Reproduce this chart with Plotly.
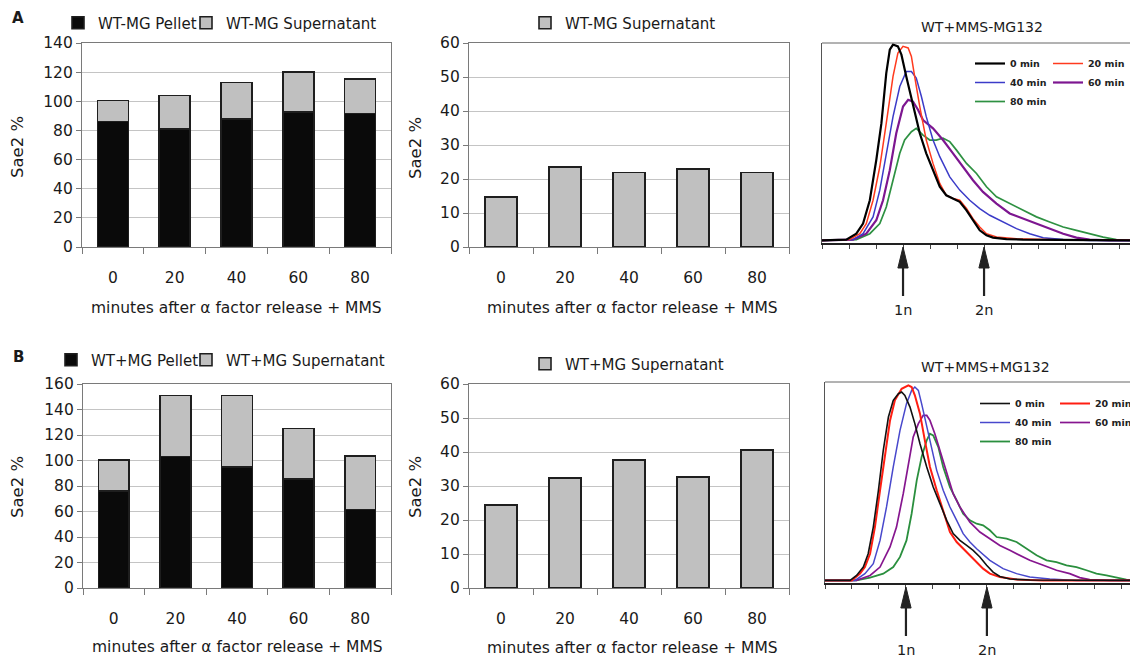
import plotly.graph_objects as go

FONT = "DejaVu Sans"
# page body has an 8px margin, so the figure is 8px smaller than the window
OFF = 8
W, H = 1138 - OFF, 660 - OFF

# ---------------- data ----------------
minutes = ["0", "20", "40", "60", "80"]

a_pellet = [86, 81, 88, 92.5, 91.5]
a_super_stack = [14.5, 23, 25, 27.5, 24]
a_super = [14.7, 23.5, 21.9, 23.0, 21.9]

b_pellet = [76, 103, 95, 85.5, 61.6]
b_super_stack = [24.5, 48, 56, 39.5, 42]
b_super = [24.4, 32.3, 37.7, 32.7, 40.6]

hist_labels = ["0 min", "20 min", "40 min", "60 min", "80 min"]
ploidy_labels = ["1n", "2n"]
ploidy_pos = [3.0, 6.0]

# panel A histograms (WT+MMS-MG132)
a0_x = [0, 0.90, 1.27, 1.52, 1.77, 2.01, 2.20, 2.38, 2.51, 2.63, 2.81, 2.94, 3.12, 3.37, 3.62, 3.86, 4.11, 4.36, 4.60, 4.85, 5.10, 5.35, 5.59, 5.84, 6.09, 6.33, 6.83, 7.44, 11.7]
a0_y = [0.3, 0.7, 3.7, 8.8, 20.6, 40.9, 59.5, 84.8, 96.6, 99.2, 98.3, 94.1, 83.1, 67.9, 54.4, 44.3, 35.8, 27.4, 23.1, 21.5, 19.8, 15.5, 10.5, 5.4, 2.9, 1.7, 1.0, 0.7, 0.3]
a20_x = [0, 1.02, 1.40, 1.64, 1.89, 2.14, 2.38, 2.63, 2.81, 3.00, 3.19, 3.31, 3.43, 3.62, 3.86, 4.11, 4.36, 4.60, 4.85, 5.10, 5.35, 5.59, 5.84, 6.09, 6.46, 7.20, 8.68, 11.7]
a20_y = [0.3, 0.7, 3.7, 8.8, 20.6, 37.5, 59.5, 83.1, 94.9, 98.3, 97.5, 93.2, 83.1, 67.9, 51.0, 39.2, 29.1, 23.1, 21.5, 20.6, 16.4, 11.3, 7.1, 3.7, 2.0, 1.2, 0.7, 0.3]
a40_x = [0, 1.15, 1.52, 1.89, 2.14, 2.38, 2.63, 2.88, 3.12, 3.31, 3.49, 3.68, 3.86, 4.11, 4.36, 4.73, 5.10, 5.47, 5.84, 6.21, 6.70, 7.20, 7.69, 8.19, 8.93, 9.91, 11.7]
a40_y = [0.3, 0.7, 3.7, 12.2, 25.7, 44.3, 62.8, 78.0, 85.6, 85.6, 82.3, 73.0, 62.8, 51.0, 42.6, 32.4, 25.7, 20.6, 16.4, 13.0, 9.6, 6.25, 3.7, 1.7, 0.8, 0.3, 0.3]
a60_x = [0, 1.15, 1.64, 2.01, 2.26, 2.51, 2.75, 3.00, 3.19, 3.37, 3.56, 3.74, 4.11, 4.48, 4.85, 5.22, 5.59, 5.96, 6.46, 6.95, 7.44, 7.94, 8.43, 8.93, 9.42, 9.91, 10.65, 11.7]
a60_y = [0.3, 0.7, 3.7, 10.5, 20.6, 35.8, 54.4, 67.9, 71.3, 70.4, 66.2, 61.1, 56.9, 51.0, 44.3, 37.5, 30.7, 24.8, 18.9, 13.9, 11.3, 8.8, 6.25, 3.7, 1.7, 0.7, 0.3, 0.3]
a80_x = [0, 1.27, 1.77, 2.14, 2.38, 2.63, 2.88, 3.06, 3.31, 3.49, 3.74, 3.99, 4.23, 4.48, 4.73, 4.98, 5.35, 5.72, 6.09, 6.46, 6.95, 7.44, 7.94, 8.43, 8.93, 9.42, 9.91, 10.41, 10.90, 11.7]
a80_y = [0.3, 0.7, 3.7, 8.8, 17.2, 30.7, 44.3, 51.0, 55.2, 56.9, 53.5, 51.0, 51.0, 51.9, 50.2, 45.9, 39.2, 34.1, 27.4, 22.3, 18.9, 15.5, 12.2, 9.6, 7.1, 5.4, 3.7, 2.0, 0.7, 0.3]

# panel B histograms (WT+MMS+MG132)
b0_x = [0, 0.93, 1.17, 1.42, 1.60, 1.79, 1.98, 2.16, 2.35, 2.53, 2.72, 2.84, 2.96, 3.15, 3.33, 3.52, 3.77, 4.01, 4.26, 4.51, 4.75, 5.00, 5.25, 5.49, 5.74, 5.99, 6.23, 6.48, 6.85, 7.59, 11.6]
b0_y = [0.3, 0.3, 2.8, 7.0, 13.7, 27.1, 45.6, 65.7, 82.4, 90.8, 94.1, 95.0, 93.3, 87.4, 79.1, 69.0, 57.3, 47.2, 38.9, 30.5, 23.8, 20.4, 17.9, 15.4, 12.1, 7.9, 4.5, 2.3, 1.0, 0.5, 0.3]
b20_x = [0, 0.99, 1.30, 1.48, 1.67, 1.85, 2.04, 2.22, 2.41, 2.59, 2.84, 3.09, 3.21, 3.33, 3.52, 3.70, 3.89, 4.14, 4.38, 4.63, 4.88, 5.12, 5.37, 5.62, 5.86, 6.11, 6.48, 7.10, 8.09, 11.6]
b20_y = [0.3, 0.3, 3.7, 7.0, 13.7, 27.1, 45.6, 64.0, 80.7, 90.8, 96.6, 98.3, 97.5, 93.3, 84.1, 70.7, 57.3, 45.6, 35.5, 24.6, 19.6, 16.2, 12.9, 9.5, 6.2, 3.7, 2.0, 0.8, 0.3, 0.3]
b40_x = [0, 1.11, 1.48, 1.79, 2.04, 2.28, 2.53, 2.78, 3.02, 3.21, 3.33, 3.46, 3.58, 3.77, 3.95, 4.14, 4.38, 4.63, 4.88, 5.12, 5.37, 5.62, 6.11, 6.60, 7.10, 7.59, 8.33, 9.32, 11.6]
b40_y = [0.3, 0.3, 3.7, 8.7, 20.4, 37.2, 57.3, 75.7, 89.1, 95.8, 97.5, 95.8, 89.1, 77.4, 65.7, 55.6, 45.6, 37.2, 30.5, 23.8, 19.6, 16.2, 10.4, 6.2, 3.7, 2.0, 1.0, 0.3, 0.3]
b60_x = [0, 1.17, 1.67, 2.04, 2.41, 2.65, 2.90, 3.09, 3.27, 3.46, 3.64, 3.77, 3.89, 4.07, 4.26, 4.51, 4.75, 5.00, 5.37, 5.74, 6.11, 6.48, 6.85, 7.22, 7.59, 8.09, 8.58, 9.07, 9.44, 9.81, 10.56, 11.6]
b60_y = [0.3, 0.3, 2.8, 7.0, 17.1, 27.1, 43.9, 59.0, 72.4, 79.1, 83.2, 83.2, 80.7, 74.0, 65.7, 53.9, 43.9, 37.2, 29.6, 24.6, 21.3, 17.9, 15.4, 12.9, 10.4, 7.9, 5.4, 3.7, 1.7, 0.7, 0.3, 0.3]
b80_x = [0, 1.17, 1.67, 2.16, 2.53, 2.78, 3.02, 3.21, 3.40, 3.58, 3.77, 3.89, 4.01, 4.20, 4.38, 4.63, 4.88, 5.12, 5.37, 5.62, 5.86, 6.11, 6.36, 6.73, 7.10, 7.47, 7.84, 8.21, 8.58, 8.95, 9.32, 9.69, 10.06, 10.43, 10.80, 11.17, 11.6]
b80_y = [0.3, 0.3, 1.7, 3.7, 7.0, 12.1, 20.4, 33.8, 50.6, 62.3, 70.7, 74.0, 73.2, 67.3, 57.3, 47.2, 40.5, 33.8, 30.5, 28.8, 28.0, 25.5, 22.1, 21.3, 19.6, 16.2, 12.9, 10.4, 9.5, 7.9, 7.0, 5.4, 3.7, 2.8, 1.7, 0.7, 0.3]

# ---------------- styling ----------------
BLACK_FILL = "#0a0a0a"
GREY_FILL = "#c0c0c0"
EDGE = "#1e1e1e"
col_a = {"0 min": "#000000", "20 min": "#ff3a1e", "40 min": "#3b3bc8", "60 min": "#7d1690", "80 min": "#2e9142"}
col_b = {"0 min": "#111111", "20 min": "#ff1e12", "40 min": "#4848cc", "60 min": "#86168f", "80 min": "#2a8f3e"}
wid_a = {"0 min": 2.2, "20 min": 1.5, "40 min": 1.5, "60 min": 2.2, "80 min": 1.7}
wid_b = {"0 min": 1.6, "20 min": 2.0, "40 min": 1.5, "60 min": 1.7, "80 min": 1.8}


def PX(v):
    return (v - OFF) / W


def PY(v):
    return 1 - (v - OFF) / H


fig = go.Figure()

# ---- bar charts ----
def bar(xa, ya, vals, name, fill, leg):
    fig.add_trace(go.Bar(x=minutes, y=vals, name=name, xaxis=xa, yaxis=ya,
                         marker=dict(color=fill, line=dict(color=EDGE, width=1.6)),
                         legend=leg, showlegend=True))


bar("x", "y", a_pellet, "WT-MG Pellet", BLACK_FILL, "legend")
bar("x", "y", a_super_stack, "WT-MG Supernatant", GREY_FILL, "legend9")
bar("x2", "y2", a_super, "WT-MG Supernatant", GREY_FILL, "legend2")
bar("x4", "y4", b_pellet, "WT+MG Pellet", BLACK_FILL, "legend5")
bar("x4", "y4", b_super_stack, "WT+MG Supernatant", GREY_FILL, "legend10")
bar("x5", "y5", b_super, "WT+MG Supernatant", GREY_FILL, "legend6")

# ---- histograms ----
a_curves = {"0 min": (a0_x, a0_y), "20 min": (a20_x, a20_y), "40 min": (a40_x, a40_y),
            "60 min": (a60_x, a60_y), "80 min": (a80_x, a80_y)}
b_curves = {"0 min": (b0_x, b0_y), "20 min": (b20_x, b20_y), "40 min": (b40_x, b40_y),
            "60 min": (b60_x, b60_y), "80 min": (b80_x, b80_y)}

col1 = ["0 min", "40 min", "80 min"]
for lab in ["80 min", "60 min", "40 min", "20 min", "0 min"]:
    xs, ys = a_curves[lab]
    fig.add_trace(go.Scatter(x=xs, y=ys, mode="lines", name=lab, xaxis="x3", yaxis="y3",
                             line=dict(color=col_a[lab], width=wid_a[lab]), showlegend=True,
                             legend="legend3" if lab in col1 else "legend4",
                             legendrank=hist_labels.index(lab)))
for lab in ["80 min", "60 min", "40 min", "20 min", "0 min"]:
    xs, ys = b_curves[lab]
    fig.add_trace(go.Scatter(x=xs, y=ys, mode="lines", name=lab, xaxis="x6", yaxis="y6",
                             line=dict(color=col_b[lab], width=wid_b[lab]), showlegend=True,
                             legend="legend7" if lab in col1 else "legend8",
                             legendrank=hist_labels.index(lab)))

tick_font = dict(family=FONT, size=15.5, color="#1a1a1a")

def bar_x(dom, anchor):
    return dict(domain=dom, anchor=anchor, type="category", showline=True, linecolor="#7a7a7a",
                linewidth=1.2, mirror=True, ticks="outside", tickson="boundaries", ticklen=6,
                tickcolor="#7a7a7a", tickfont=tick_font, ticklabelstandoff=16, showgrid=False,
                fixedrange=True, automargin=False)


def bar_y(dom, anchor, rmax, dt):
    return dict(domain=dom, anchor=anchor, range=[0, rmax], dtick=dt, showline=True,
                linecolor="#7a7a7a", linewidth=1.2, mirror=True, ticks="outside", ticklen=5,
                tickcolor="#7a7a7a", gridcolor="#c4c4c4", gridwidth=1, zeroline=False,
                tickfont=tick_font, fixedrange=True, automargin=False)


def hist_x(dom, anchor, rmax):
    return dict(domain=dom, anchor=anchor, range=[0, rmax], dtick=1, tick0=0, showline=True,
                linecolor="#222222", linewidth=2, ticks="outside", ticklen=4, tickcolor="#444444",
                showticklabels=False, showgrid=False, zeroline=False, fixedrange=True,
                automargin=False)


def hist_y(dom, anchor):
    return dict(domain=dom, anchor=anchor, range=[-1, 100], showline=True, linecolor="#555555",
                linewidth=1, ticks="", showticklabels=False, showgrid=False, zeroline=False,
                fixedrange=True, automargin=False)


ydomA = [PY(247), PY(43)]
ydomB = [PY(588), PY(384)]
ydomAh = [PY(243), PY(43)]
ydomBh = [PY(583), PY(382)]

layout = dict(
    width=W, height=H, margin=dict(l=0, r=0, t=0, b=0, pad=0, autoexpand=False),
    paper_bgcolor="white", plot_bgcolor="white", showlegend=True,
    barmode="stack", bargap=0.5,
    font=dict(family=FONT, color="#1a1a1a"),
    xaxis=bar_x([PX(82), PX(391)], "y"), yaxis=bar_y(ydomA, "x", 140, 20),
    xaxis2=bar_x([PX(469), PX(789)], "y2"), yaxis2=bar_y(ydomA, "x2", 60, 10),
    xaxis3=hist_x([PX(822), 1.0], "y3", 11.7), yaxis3=hist_y(ydomAh, "x3"),
    xaxis4=bar_x([PX(83), PX(391)], "y4"), yaxis4=bar_y(ydomB, "x4", 160, 20),
    xaxis5=bar_x([PX(469), PX(789)], "y5"), yaxis5=bar_y(ydomB, "x5", 60, 10),
    xaxis6=hist_x([PX(825), 1.0], "y6", 11.6), yaxis6=hist_y(ydomBh, "x6"),
)

leg_font = dict(family=FONT, size=15, color="#1a1a1a")
hleg_font = dict(family=FONT, size=9.5, color="#222222", weight="bold")
common = dict(bgcolor="rgba(0,0,0,0)", borderwidth=0, itemclick=False, itemdoubleclick=False)

def hleg(x, y):
    return dict(orientation="h", x=PX(x), y=PY(y), xanchor="left", yanchor="middle",
                font=leg_font, visible=True, **common)

def vleg(x, y):
    return dict(orientation="v", x=PX(x), y=PY(y), xanchor="left", yanchor="top",
                font=hleg_font, tracegroupgap=0, visible=True, **common)

layout["legend"] = hleg(58, 23)
layout["legend9"] = hleg(186, 23)
layout["legend2"] = hleg(525, 23)
layout["legend5"] = hleg(51, 360)
layout["legend10"] = hleg(186, 360)
layout["legend6"] = hleg(525, 364)
layout["legend3"] = vleg(970, 49)
layout["legend4"] = vleg(1048, 49)
layout["legend7"] = vleg(975, 389)
layout["legend8"] = vleg(1055, 389)

fig.update_layout(**layout)

# ---- text annotations ----
ann = []
def text(x, y, s, size=15.5, angle=0, bold=False):
    ann.append(dict(x=PX(x), y=PY(y), xref="paper", yref="paper", text=s, showarrow=False,
                    textangle=angle, xanchor="center", yanchor="middle",
                    font=dict(family=FONT, size=size, color="#1a1a1a",
                              weight="bold" if bold else "normal")))

xtitle = "minutes after \u03b1 factor release + MMS"
text(236, 308, xtitle)
text(632, 308, xtitle)
text(237, 647, xtitle)
text(632, 648, xtitle)
for (x, y) in [(17, 147), (415, 148), (17, 487), (415, 487)]:
    text(x, y, "Sae2 %", size=16.5, angle=-90)
text(982, 27, "WT+MMS-MG132", size=14)
text(985, 367, "WT+MMS+MG132", size=14)
text(18, 18, "A", size=15, bold=True)
text(18, 357, "B", size=15, bold=True)

# ploidy arrows
shapes = []
for xa, tip, base, bottom, lab_y in [("x3", 247, 268, 296, 310), ("x6", 587, 608, 636, 650)]:
    for lab, pos in zip(ploidy_labels, ploidy_pos):
        shapes.append(dict(type="line", xref=xa, yref="paper", x0=pos, x1=pos,
                           y0=PY(base - 2), y1=PY(bottom), line=dict(color="#222222", width=2.2)))
        shapes.append(dict(type="path", xref=xa, yref="paper",
                           path=f"M {pos - 0.19} {PY(base)} L {pos} {PY(tip)} L {pos + 0.19} {PY(base)} Z",
                           fillcolor="#222222", line=dict(color="#222222", width=1)))
        ann.append(dict(x=pos, y=PY(lab_y), xref=xa, yref="paper", text=lab, showarrow=False,
                        xanchor="center", yanchor="middle",
                        font=dict(family=FONT, size=14.5, color="#1a1a1a")))

# top frame line of histograms
for xa, ya in [("x3", "y3"), ("x6", "y6")]:
    shapes.append(dict(type="line", xref=f"{xa} domain", yref=f"{ya} domain", x0=0, x1=1, y0=1, y1=1,
                       line=dict(color="#666666", width=1)))

fig.update_layout(annotations=ann, shapes=shapes)
fig.write_html("out.html")
